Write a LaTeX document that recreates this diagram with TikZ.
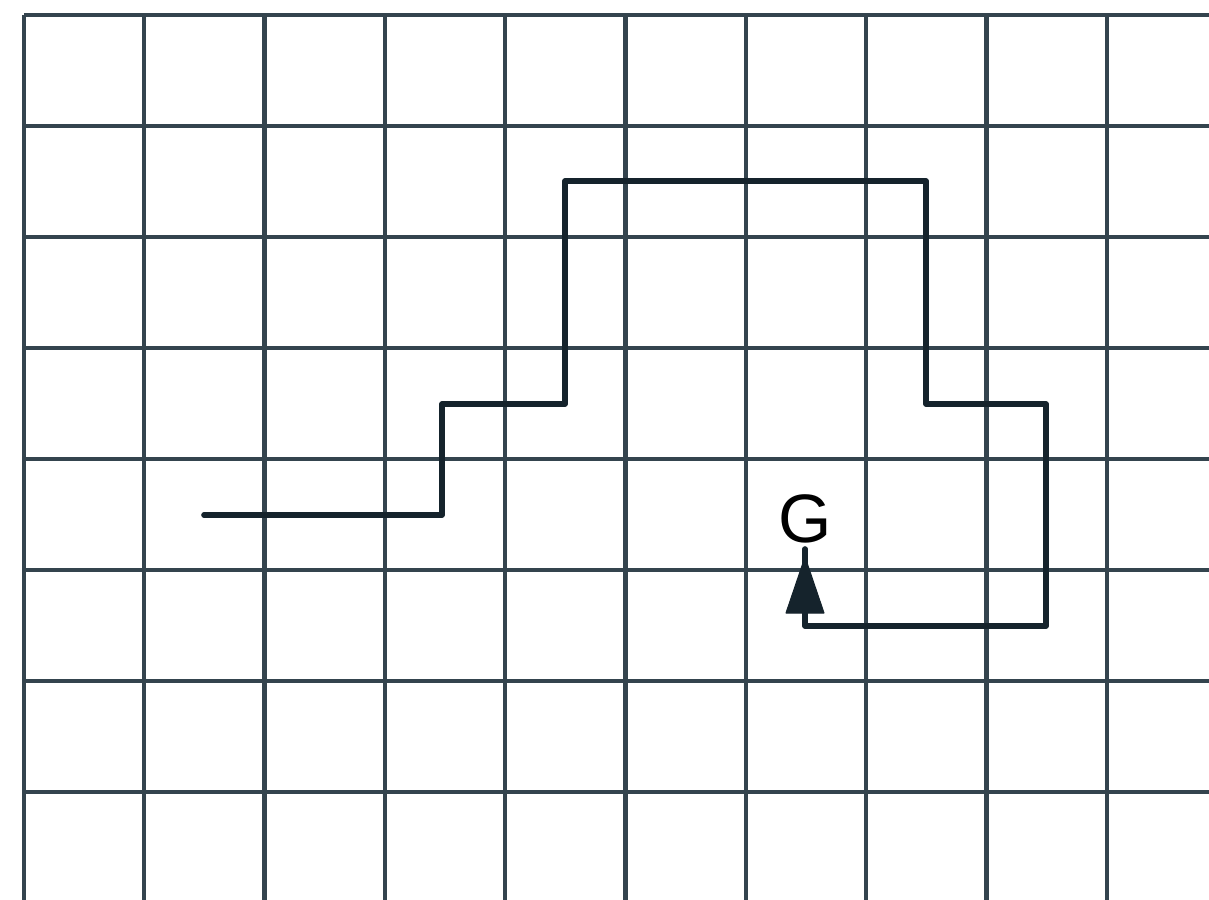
\documentclass[tikz,border=0pt]{standalone}
\usepackage{fontspec}
\setmainfont{Liberation Sans}
\definecolor{gridc}{HTML}{34444E}
\definecolor{pathc}{HTML}{15232C}
\tikzset{
  gridline/.style={draw=gridc, line width=2.5pt},
  route/.style={draw=pathc, line width=3.2pt, line join=round, line cap=round},
  tip/.style={fill=pathc, draw=pathc, line width=0.6pt, line join=round},
  label/.style={font=\fontsize{39}{41}\selectfont, text=black, inner sep=0pt}
}
\begin{document}
\begin{tikzpicture}[x=0.02cm, y=-0.02cm]
\useasboundingbox (0,0) rectangle (1209,899);
% grid
\foreach \i in {0,...,9} {
  \draw[gridline] ({24+120.3*\i},15) -- ({24+120.3*\i},905);
}
\foreach \j in {0,...,7} {
  \draw[gridline] (24,{15+111*\j}) -- (1215,{15+111*\j});
}
% route
\coordinate (start) at (204,515);
\node[label] (G) at (805,519) {G};
\coordinate (end) at (805,549);
\draw[route] (start) -- (442,515) -- (442,404) -- (565,404) -- (565,181)
  -- (926,181) -- (926,404) -- (1046,404) -- (1046,626) -- (805,626) -- (end);
\fill[tip] (805,557) -- (824,613) -- (786,613) -- cycle;
\end{tikzpicture}
\end{document}
